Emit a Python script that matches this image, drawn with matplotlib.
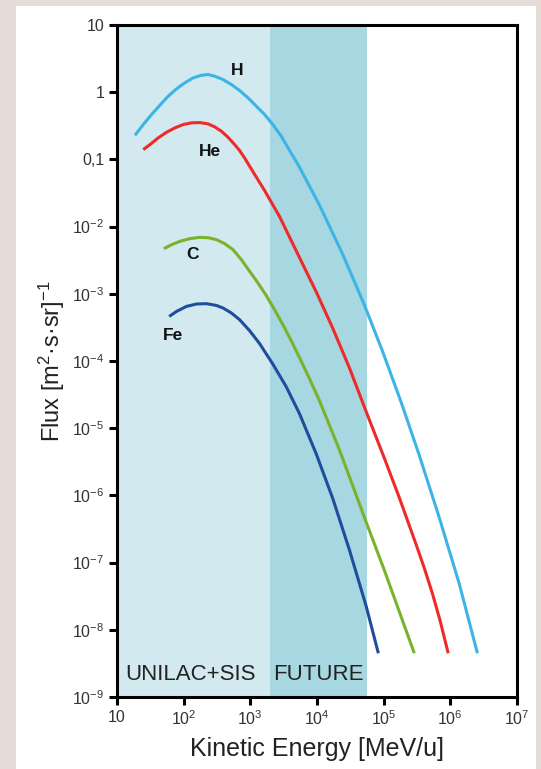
import matplotlib
matplotlib.use('Agg')
import matplotlib.pyplot as plt
from matplotlib.patches import Rectangle

plt.rcParams['font.family'] = ['Liberation Sans', 'DejaVu Sans']
plt.rcParams['mathtext.fontset'] = 'custom'
plt.rcParams['mathtext.rm'] = 'Liberation Sans'
plt.rcParams['mathtext.it'] = 'Liberation Sans:italic'
plt.rcParams['mathtext.default'] = 'regular'

# flux spectra, kinetic energy in MeV/u, flux in (m^2 s sr)^-1
H_energy = [18.6, 24.8, 33.0, 44.0, 58.6, 78.2, 104, 139, 185, 232, 292, 390,
            520, 692, 923, 1230, 1640, 2180, 2910, 5470, 10900, 24300, 51400,
            96600, 182000, 342000, 681000, 1360000, 2550000]
H_flux = [0.229, 0.330, 0.465, 0.640, 0.871, 1.122, 1.378, 1.635, 1.787, 1.832,
          1.730, 1.542, 1.300, 1.059, 0.824, 0.618, 0.465, 0.330, 0.221, 0.0762,
          0.02086, 3.87e-3, 6.81e-4, 1.38e-4, 2.47e-5, 3.96e-6, 4.71e-7, 4.85e-8,
          4.48e-9]

He_energy = [24.8, 31.2, 41.5, 55.4, 73.8, 98.2, 131, 175, 232, 292, 369, 463,
             583, 692, 822, 977, 1640, 2750, 5470, 9730, 17100, 30600, 61000,
             102000, 172000, 308000, 406000, 541000, 705000, 929000]
He_flux = [0.140, 0.166, 0.209, 0.2535, 0.294, 0.330, 0.350, 0.353, 0.338, 0.305,
           0.262, 0.2133, 0.166, 0.135, 0.105, 0.0789, 0.0343, 0.01406, 3.45e-3,
           1.07e-3, 3.13e-4, 7.93e-5, 1.33e-5, 3.62e-6, 9.2e-7, 1.84e-7, 8.34e-8,
           3.42e-8, 1.35e-8, 4.48e-9]

C_energy = [50.5, 65.8, 87.7, 124, 175, 232, 310, 413, 550, 734, 977, 1300,
            1740, 2310, 3080, 4110, 5470, 7730, 10900, 21700, 54500, 102000,
            172000, 288000]
C_flux = [4.70e-3, 5.38e-3, 6.03e-3, 6.62e-3, 6.92e-3, 6.84e-3, 6.40e-3, 5.57e-3,
          4.54e-3, 3.22e-3, 2.16e-3, 1.45e-3, 9.37e-4, 5.79e-4, 3.47e-4, 2.00e-4,
          1.12e-4, 5.44e-5, 2.56e-5, 4.76e-6, 4.04e-7, 7.78e-8, 1.85e-8, 4.48e-9]

Fe_energy = [60.7, 78.2, 110, 156, 220, 310, 390, 520, 692, 977, 1380, 2160,
             3460, 5470, 9730, 17300, 30600, 54500, 83200]
Fe_flux = [4.60e-4, 5.47e-4, 6.49e-4, 7.05e-4, 7.13e-4, 6.71e-4, 6.15e-4, 5.18e-4,
           4.11e-4, 2.82e-4, 1.81e-4, 9.10e-5, 4.13e-5, 1.64e-5, 4.16e-6, 8.89e-7,
           1.55e-7, 2.27e-8, 4.48e-9]

series = [
    ('H', H_energy, H_flux, '#3cb4e6', 625, 2.1),
    ('He', He_energy, He_flux, '#ee2a2a', 247, 0.131),
    ('C', C_energy, C_flux, '#79b32c', 137, 3.8e-3),
    ('Fe', Fe_energy, Fe_flux, '#1f4d9e', 69, 2.38e-4),
]

# accelerator energy ranges
unilac_range = (10, 2000)
future_range = (2000, 56000)

x_ticks = [10, 1e2, 1e3, 1e4, 1e5, 1e6, 1e7]
x_labels = ['10', '$10^2$', '$10^3$', '$10^4$', '$10^5$', '$10^6$', '$10^7$']
y_ticks = [10, 1, 0.1, 1e-2, 1e-3, 1e-4, 1e-5, 1e-6, 1e-7, 1e-8, 1e-9]
y_labels = ['10', '1', '0,1', '$10^{-2}$', '$10^{-3}$', '$10^{-4}$', '$10^{-5}$',
            '$10^{-6}$', '$10^{-7}$', '$10^{-8}$', '$10^{-9}$']

fig = plt.figure(figsize=(5.41, 7.69), dpi=100)
fig.patch.set_facecolor('#e5dcd7')
fig.patches.append(Rectangle((16 / 541, 0), 520 / 541, 763 / 769,
                             transform=fig.transFigure, facecolor='white',
                             edgecolor='none', zorder=-10))

ax = fig.add_axes([117 / 541, 1 - 697 / 769, 400 / 541, 672 / 769])
ax.set_zorder(1)
ax.set_xscale('log')
ax.set_yscale('log')
ax.set_xlim(10, 1e7)
ax.set_ylim(1e-9, 10)
ax.set_facecolor('white')

ax.axvspan(*unilac_range, color='#d1e9ef', lw=0, zorder=0)
ax.axvspan(*future_range, color='#a7d7e0', lw=0, zorder=0)

for name, e, f, col, lx, ly in series:
    ax.plot(e, f, color=col, lw=2.2, solid_capstyle='butt',
            solid_joinstyle='round', zorder=3)
    ax.text(lx, ly, name, fontsize=12.5, fontweight='bold', ha='center',
            va='center', color='#111111', zorder=4)

ax.text(0.02, 0.034, 'UNILAC+SIS', transform=ax.transAxes, fontsize=16,
        color='#222222', ha='left', va='center')
ax.text(0.39, 0.034, 'FUTURE', transform=ax.transAxes, fontsize=16,
        color='#222222', ha='left', va='center')

ax.set_xticks(x_ticks)
ax.set_xticklabels(x_labels)
ax.set_yticks(y_ticks)
ax.set_yticklabels(y_labels)
ax.minorticks_off()
ax.tick_params(direction='out', length=6, width=2.2, labelsize=11.5,
               labelcolor='#333333', pad=3)

for s in ax.spines.values():
    s.set_linewidth(2.2)
    s.set_color('black')

ax.set_xlabel('Kinetic Energy [MeV/u]', fontsize=18, color='#222222', labelpad=6)
ax.set_ylabel('Flux [m$^2$·s·sr]$^{-1}$', fontsize=17, color='#222222', labelpad=4)

fig.savefig('out.png', dpi=100, facecolor=fig.get_facecolor())
